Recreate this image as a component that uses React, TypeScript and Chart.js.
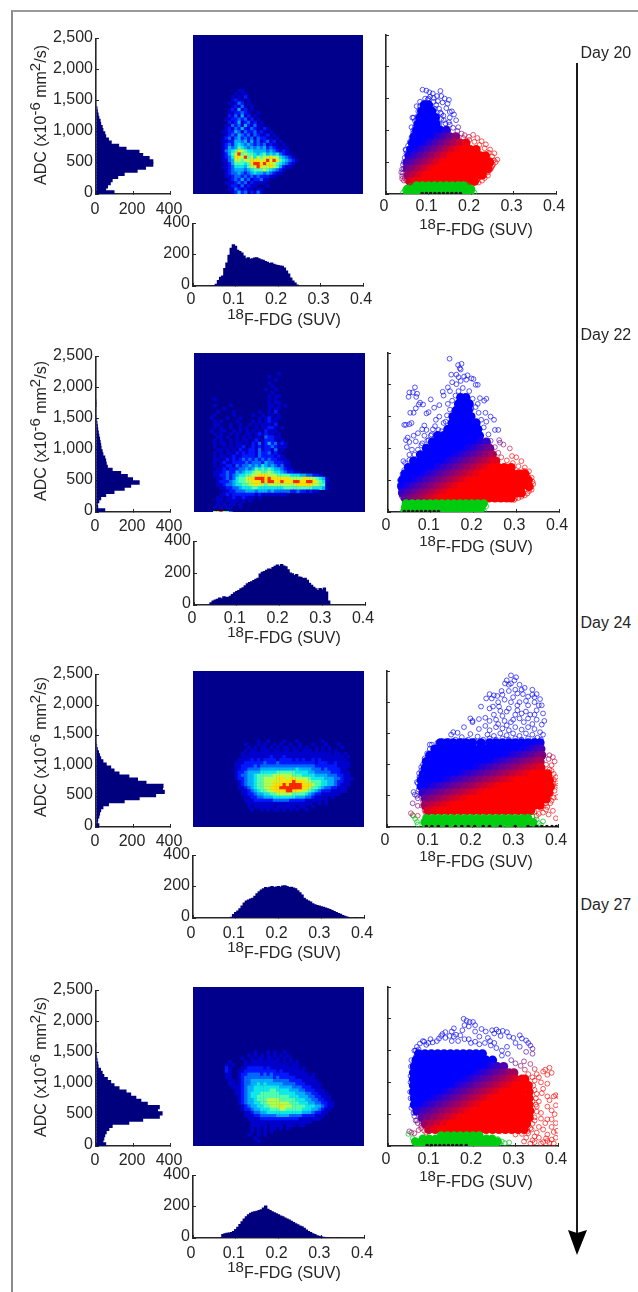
import React, { useEffect, useRef } from "react";
import { Chart, registerables } from "chart.js";

Chart.register(...registerables);

type Row = [number, number[]];

// ---------- tick values ----------
const adcTicks = [0, 500, 1000, 1500, 2000, 2500];
const countTicks = [0, 200, 400];
const fdgTicks = [0, 0.1, 0.2, 0.3, 0.4];

// ---------- ADC histograms: counts for 50-wide bins from 0 ----------
const day20AdcCounts = [100,55,65,80,90,120,155,225,270,310,310,290,255,235,165,125,85,70,55,50,40,36,28,25,18,14,10,8,3];
const day22AdcCounts = [50,12,10,18,28,55,100,155,190,236,200,172,136,90,64,58,55,50,40,36,30,28,25,22,18,15,12,10,8,6,4,3,2,2,1,1];
const day24AdcCounts = [18,10,12,18,22,28,40,70,155,236,325,372,362,365,273,227,180,127,100,82,58,40,28,22,16,10,6,4,3,2,2,1];
const day27AdcCounts = [55,40,45,50,58,72,90,180,255,345,360,335,345,280,245,218,190,165,127,100,82,64,45,36,27,14,12,8,6,4,3,2,1];

// ---------- FDG histograms: counts for 0.005-wide bins, from the start value ----------
const day20FdgStart = 0.045;
const day20FdgCounts = [2,6,14,38,60,68,115,150,200,245,268,258,232,225,215,195,178,185,175,178,182,185,178,172,168,160,155,148,150,142,138,135,132,130,118,100,80,55,35,22,10,3];
const day22FdgStart = 0.035;
const day22FdgCounts = [5,18,28,35,40,48,42,55,52,50,58,70,80,88,95,105,112,125,138,145,150,158,165,172,198,210,215,222,230,228,240,248,255,248,258,250,245,225,205,200,190,195,180,178,170,172,160,140,128,115,105,95,108,100,110,85,28,5];
const day24FdgStart = 0.09;
const day24FdgCounts = [8,25,38,48,62,80,100,112,118,125,130,142,158,172,182,190,198,196,200,205,198,202,205,200,208,210,205,198,200,195,190,178,165,150,130,120,112,105,95,88,84,80,75,72,68,62,58,52,45,38,32,28,20,14,9,6,4,3,2,1];
const day27FdgStart = 0.065;
const day27FdgCounts = [2,25,30,33,35,38,45,58,72,90,108,125,140,152,162,168,172,175,180,185,195,208,188,180,172,165,158,152,145,140,132,125,118,110,102,95,88,80,75,65,55,45,38,30,25,18,14,10,8,6,5,5,4,4,3,2];

// ---------- density maps: one string per ADC row (top row first), one digit per FDG bin ----------
const day20MapStart = 0.0525;
const day20Map = [
"0000000110000000000000000000","0000001011000000000000000000","0000010102000000000000000000","0000012110100000000000000000",
"0000101320100000000000000000","0000012131010000000000000000","0000121412010000000000000000","0000112232100100000000000000",
"0000213141201000000000000000","0001122323120100000000000000","0000212412312010000000000000","0001132314213110000000000000",
"0001213242132102100000000000","0011224313223121010000000000","0001232432313211201000000000","0012313423231322110100000000",
"0011224434242312312010000000","0012324543432323121101000000","0012434654343434232110100000","0013456876554444343212100000",
"0012467967665456454532110000","0012358879675767787754321000","0011347767788878979865432100","0001246665689989887654321000",
"0011235554677987787642110000","0001234443456667654321000000","0001233432345443432110000000","0001123323232322211000000000",
"0000123242312231100000000000","0001112323121111000000000000","0000122131211000100000000000","0000113212110110000000000000",
"0000012423021310000000000000",
];
const day22MapStart = 0.03;
const day22Map = [
"00000000000000000000001","0000000000000000000100","000000000000000000000100","00000000000000000001","0000000000000000000010",
"000000000000000000100100","0000000000000000000010","00000000000000000001011","00100000000000000001010","000000000000000000010110",
"0010000100000000000110101","00000100000000000001011","0001000010000000100102","00100000100000100101101","010000100010000010120110",
"0010100001000010101211","0011000100100101011102","001010010010100101122101","0100110010101010102111","00101001010011012121101",
"00011010010101011032211","001010010101101201222101","0010110101101021312423121","00100101011201212122321110","000110101021122131221301",
"00101011021212213223121","001011012112222132222121","0011012121232323232322111","001012112222323332433222110","00101122132334343543432311",
"000112122233434656565443211","00111232243455677667655432211","0011223234556677888777666655544332210000","0001123235667889998988888877778877654100",
"0001222345667788898998898889988998765100","0001123345566778776777777777888887766100","0000112233455566555555556666666665554100","0000011223334443444343333322322121100000",
"0000112122222221211111111000000000000000","00011011211211101000000","0001101111010100","000101011010","0010101100100","0178976300",
];
const day24MapStart = 0.09;
const day24Map = [
"00000000100100001000100000001000","00001000101001010010010001000100010","0000010101101010110101010010101000100","00001011011101101101101110101010100",
"00010111111111111111111111111110110100","00011111111121112111111111111111111010","00111121212222122221212112121111111100","01112222223222322222222222122211211110",
"01122223233333333333333333222222211110","01122333344444444444544443332322221100","01223444455555666666555544333332221110","01233445666667777776665555444433322110",
"01223445667777888788777765555444332111","00123445667778788889888776665544322110","00123445667778889899998887665544321110","00112345667788899999998876654332211100",
"00011234566778888998887765432221111100","00011223445566777776666543221111110000","00001122334445555555444332111101000000","00001112222223333322222111110100000000",
"00000111111111111111111110010100","00000101111110111111011001000","00000010010101101010100100",
];
const day27MapStart = 0.06;
const day27Map = [
"0000000000010001010010","00000000010101010101010","00000001001011011010101","00010000101111111110101010","0010100011111111111111011",
"0021000112222212111111111010","00210011222222222212111111100","0011001223333232322222111111010","00110012333333333232222211111100",
"00011012334444444333332222111110","000110123344545444443333222111110","0000111234455555555444433322211100","00000112344555556655554443322211100",
"000001123455566666655555444332211100","000000123455666666666655544433221110","000000123445666777766666555443322110","000000123445566777777766655544332211",
"000000012344556677787776666555443211","000000012234455566677666665554432110","000000001123344555555555554443221100","000000001112233333444433332222111000",
"000000000111122222222222211111110000","000000000011111111111111111110000","000000000011111011110111011000","00000000001010101101010",
"000000000010101010","000000000100101","0000000000010","00000000000010","0000001356899985310",
];
const day20MapTopAdc = 1625;
const day22MapTopAdc = 2175;
const day24MapTopAdc = 1375;
const day27MapTopAdc = 1475;
// ADC at which the last row of each map sits (the thin strip along the base), null = regular
const mapFloorAdc = [null, -12, null, -34];

// ---------- scatter: dense rows [ADC, FDG x 1000 values] ----------
const day20Core: Row[] = [
[1400,[90,100]],[1300,[84,96,108]],[1200,[80,92,104,116]],[1100,[76,90,104,118]],[1000,[72,86,100,114,128,142]],
[900,[66,80,94,108,122,136,150,164]],[800,[62,76,90,104,118,132,146,160,174,188]],[700,[58,72,86,100,114,128,142,156,170,184,198,212]],
[600,[54,68,82,96,110,124,138,152,166,180,194,208,222,234]],[500,[50,64,78,92,106,120,134,148,162,176,190,204,218,232,244]],
[400,[50,64,78,92,106,120,134,148,162,176,190,204,218,232,240]],[300,[52,66,80,94,108,122,136,150,164,178,192,206,220,226]],
[200,[56,70,84,98,112,126,140,154,168,182,196,208]],
];
const day20Fringe = [
[86,1640],[95,1625],[102,1600],[110,1580],[128,1620],[120,1540],[104,1530],[92,1500],[98,1480],[130,1540],[138,1500],[148,1480],[145,1420],[133,1440],[122,1460],[112,1510],
[80,1450],[72,1380],[65,1200],[62,1200],[68,1150],[70,1090],[60,1050],[64,1000],[150,1290],[160,1250],[165,1160],[155,1300],[142,1350],[150,1200],[135,1230],[128,1280],[140,1110],[150,1090],
[170,1050],[178,950],[185,925],[195,900],[205,930],[215,880],[225,830],[235,780],[245,700],[255,640],[262,540],[258,500],[250,440],[245,380],[240,340],[232,300],[222,270],[215,220],[212,190],
[60,540],[50,520],[47,440],[42,400],[40,330],[38,280],[44,250],[48,210],[55,640],[52,590],[47,690],[62,690],[68,750],[145,1000],[130,1180],[115,1340],[105,1390],[95,1370],
[46,700],[48,640],[44,570],[42,500],[40,460],[38,390],[36,340],[38,240],[42,210],[52,760],[56,820],[60,890],[64,960],[68,1050],[72,1130],[74,1220],[76,1300],[80,1380],[118,1400],[125,1340],[130,1260],[136,1160],
[148,1130],[158,1040],[168,990],[182,880],[196,850],[208,820],[220,770],[232,720],[242,650],[250,590],[254,530],[252,460],[248,410],[240,290],[232,250],[226,210],[218,180],[120,1220],[126,1100],[112,1450],[100,1500],
];
const day20Green: Row[] = [[135,[72,86,100,114,128,142,156,170,182]],[80,[50,64,78,92,106,120,134,148,162,176,190,200]],[25,[50,64,78,92,106,120,134,148,162,176,190,198]]];
const day20GreenEdge = [[40,20],[44,60],[48,90],[58,125],[204,60],[208,25],[196,120],[188,150]];
const day20Black: Row[] = [[6,[85,95,105,115,125,135,145,155,165,175]]];

const day22Core: Row[] = [
[1800,[170,182]],[1700,[165,178,190]],[1600,[160,174,188]],[1500,[152,166,180,194]],[1400,[150,164,178,192,206]],[1300,[140,154,168,182,196,210]],
[1200,[116,130,144,158,172,186,200,214]],[1100,[104,118,132,146,160,174,188,202,216,230]],[1000,[90,104,118,132,146,160,174,188,202,216,230,238]],
[900,[76,90,104,118,132,146,160,174,188,202,216,230,244]],[800,[60,74,88,102,116,130,144,158,172,186,200,214,228,242,252]],
[700,[48,62,76,90,104,118,132,146,160,174,188,202,216,230,244,258,272,288]],
[600,[40,54,68,82,96,110,124,138,152,166,180,194,208,222,236,250,264,278,292,306,320]],
[500,[34,48,62,76,90,104,118,132,146,160,174,188,202,216,230,244,258,272,286,300,314,328]],
[400,[32,46,60,74,88,102,116,130,144,158,172,186,200,214,228,242,256,270,284,298,312,330]],
[300,[34,48,62,76,90,104,118,132,146,160,174,188,202,216,230,244,258,272,286,300,312]],
[220,[40,54,68,82,96,110,124,138,152,166,180,194,208,222,236,250,264,278,288]],
];
const day22Fringe = [
[144,2410],[164,2310],[170,2240],[168,2260],[172,2330],[148,2160],[160,2160],[165,2120],[178,2130],[186,2150],[195,2100],[200,2090],[205,2000],[210,2000],[150,2040],[140,1960],[160,2010],
[170,2060],[183,2080],[130,1830],[128,1890],[145,1900],[215,1790],[225,1750],[230,1780],[210,1700],[228,1560],[240,1500],[248,1450],[230,1420],[250,1290],[258,1290],[260,1130],[262,1090],
[270,1060],[285,1000],[290,880],[300,860],[312,800],[320,700],[330,640],[338,480],[334,400],[330,330],[320,260],[305,220],[295,190],[262,210],[280,205],
[38,1370],[42,1370],[50,1380],[55,1400],[52,1560],[60,1560],[50,1880],[48,1810],[63,1960],[68,1860],[58,1880],[66,1810],[72,1690],[65,1630],[75,1720],[82,1690],[100,1770],[108,1640],[90,1550],[95,1570],
[85,1360],[90,1290],[80,1300],[70,1240],[65,1110],[60,1200],[46,1170],[42,1130],[50,1100],[56,980],[44,1020],[50,900],[40,770],[36,800],[32,540],[30,370],[36,300],[42,260],[120,1500],[110,1350],[135,1420],[120,1680],[125,1270],[105,1300],[100,1200],[95,1130],[78,1050],
[150,1750],[158,1830],[165,1900],[175,1950],[190,1900],[198,1780],[205,1650],[212,1560],[218,1450],[224,1330],[235,1220],[240,1120],[250,1020],[258,930],[265,860],[278,810],[292,770],[305,720],[318,650],[326,590],[336,540],[340,440],[336,350],[326,290],[312,240],[298,210],
[140,1700],[145,1610],[138,1520],[130,1400],[118,1290],[102,1220],[92,1120],[80,1080],[70,980],[62,900],[50,820],[44,720],[38,660],[34,600],[28,500],[28,430],[30,320],[32,250],[36,210],[180,1780],[155,1600],[168,1750],[195,1620],[112,1450],[85,1200],
];
const day22Green: Row[] = [[135,[42,56,70,84,98,112,126,140,154,168,182,196,210,224]],[75,[40,54,68,82,96,110,124,138,152,166,180,194,208,218]],[25,[40,54,68,84,100,116,132,150,168,186,204,216]]];
const day22GreenEdge = [[34,10],[205,15],[215,60],[225,15],[222,50],[230,90],[190,20],[180,50]];
const day22Black: Row[] = [[6,[38,48,58,68,78,88,98,108,118]]];

const day24Core: Row[] = [
[1350,[125,140,155,170,185,200,220,240,255,270,285,300,315,330,345,358]],
[1250,[112,125,140,155,170,185,200,215,230,245,260,275,290,305,320,335,350,360]],
[1150,[100,115,130,145,160,175,190,205,220,235,250,265,280,295,310,325,340,355,362]],
[1050,[92,107,122,137,152,167,182,197,212,227,242,257,272,287,302,317,332,347,358]],
[950,[90,105,120,135,150,165,180,195,210,225,240,255,270,285,300,315,330,345,360]],
[850,[85,100,115,130,145,160,175,190,205,220,235,250,265,280,295,310,325,340,355,368,376]],
[750,[80,95,110,125,140,155,170,185,200,215,230,245,260,275,290,305,320,335,350,365,380]],
[650,[80,95,110,125,140,155,170,185,200,215,230,245,260,275,290,305,320,335,350,365,382]],
[550,[84,99,114,129,144,159,174,189,204,219,234,249,264,279,294,309,324,339,354,368,378]],
[450,[90,105,120,135,150,165,180,195,210,225,240,255,270,285,300,315,330,345,360,372]],
[350,[90,105,120,135,150,165,180,195,210,225,240,255,270,285,300,315,330,345,358]],
[260,[96,111,126,141,156,171,186,201,216,231,246,261,276,291,306,321,336]],
];
const day24Fringe = [
[290,2430],[302,2400],[298,2350],[280,2350],[276,2300],[290,2300],[310,2280],[322,2230],[340,2200],[350,2130],[358,2050],[362,1950],[365,1820],[368,1700],[362,1640],[250,2110],[240,2130],[245,2060],
[232,2060],[258,2100],[268,2180],[285,2180],[300,2200],[318,2130],[330,2090],[345,2000],[295,2080],[275,2040],[260,2000],[310,2000],[330,1950],[220,1930],[240,1900],[262,1930],[285,1900],[305,1870],[325,1850],[345,1800],
[200,1700],[195,1740],[200,1680],[180,1600],[150,1480],[155,1520],[165,1510],[215,1730],[230,1750],[250,1800],[270,1780],[295,1720],[320,1680],[340,1650],[230,1620],[260,1650],[280,1630],[215,1570],[195,1490],[175,1440],
[100,1320],[105,1320],[93,1060],[85,950],[80,960],[75,860],[78,800],[70,720],[62,560],[65,520],[70,500],[72,460],[60,380],[72,340],[88,310],[56,220],[60,190],[72,180],[90,230],
[380,1150],[388,1120],[392,1050],[385,990],[378,1090],[395,800],[390,760],[398,700],[380,920],[392,580],[398,480],[390,470],[385,420],[382,380],[375,320],[388,260],[378,200],[395,140],[372,280],[365,230],[355,210],[350,180],[400,660],[372,1000],
[240,1550],[255,1600],[270,1580],[285,1550],[300,1600],[315,1560],[330,1600],[345,1570],[358,1520],[365,1480],[235,1480],[250,1460],[265,1500],[280,1470],[295,1500],[310,1460],[325,1500],[340,1480],[352,1430],[360,1400],
[212,1450],[225,1400],[240,1420],[255,1400],[270,1420],[285,1400],[300,1420],[315,1400],[330,1420],[345,1390],[358,1350],[190,1400],[205,1380],[220,1350],[175,1380],[160,1400],[145,1380],[130,1380],[118,1350],
[240,1700],[255,1720],[275,1700],[290,1680],[310,1740],[330,1740],[350,1720],[350,1870],[335,1800],[300,1800],[315,1820],[280,1850],[265,1860],[248,1930],[345,2080],[325,2020],[305,1950],[290,2000],[270,2120],[305,2140],[340,2120],[355,1950],[285,2280],[315,2200],
[100,1250],[94,1180],[88,1100],[84,1000],[80,900],[76,800],[72,700],[74,600],[78,500],[84,420],[82,340],[88,270],[95,220],[385,900],[390,850],[388,700],[386,620],[384,540],[378,450],[372,380],[360,300],[345,240],
];
const day24Green: Row[] = [[140,[92,107,122,137,152,167,182,197,212,227,242,257,272,287,302,317,330]],[75,[88,103,118,133,148,163,178,193,208,223,238,253,268,283,298,313,328,342]],[25,[92,107,125,145,165,185,205,225,245,265,285,305,325]]];
const day24GreenEdge = [[62,180],[66,130],[70,80],[72,40],[345,40],[355,60],[350,120],[340,170],[365,90],[360,30]];
const day24Black: Row[] = [[6,[92,105,120,140,160,175,190,205,225,240,265,300,330,350,362,374,386,396]]];

const day27Core: Row[] = [
[1450,[72,87,102,117,132,147,162,177,192,207,222]],
[1350,[66,81,96,111,126,141,156,171,186,201,216,231,246]],
[1250,[62,77,92,107,122,137,152,167,182,197,212,227,242,257,272]],
[1150,[60,75,90,105,120,135,150,165,180,195,210,225,240,255,270,285,296]],
[1050,[60,75,90,105,120,135,150,165,180,195,210,225,240,255,270,285,300,315,322]],
[950,[60,75,90,105,120,135,150,165,180,195,210,225,240,255,270,285,300,315,330]],
[850,[60,75,90,105,120,135,150,165,180,195,210,225,240,255,270,285,300,315,332]],
[750,[62,77,92,107,122,137,152,167,182,197,212,227,242,257,272,287,302,317,332]],
[650,[62,77,92,107,122,137,152,167,182,197,212,227,242,257,272,287,302,317,332]],
[550,[68,83,98,113,128,143,158,173,188,203,218,233,248,263,278,293,308,323,334]],
[450,[80,95,110,125,140,155,170,185,200,215,230,245,260,275,290,305,320,332]],
[350,[88,103,118,133,148,163,178,193,208,223,238,253,268,283,298,313,326]],
[260,[96,111,126,141,156,171,186,201,216,231,246,261,276,291,306,320]],
];
const day27Fringe = [
[178,2000],[185,1970],[192,1950],[200,1950],[205,1900],[190,1880],[180,1900],[175,1820],[155,1850],[150,1800],[135,1790],[125,1730],[128,1760],[145,1730],[160,1750],[170,1740],[205,1800],[220,1840],[230,1800],
[245,1820],[255,1830],[260,1800],[250,1770],[270,1810],[280,1790],[265,1730],[285,1720],[295,1700],[315,1690],[310,1740],[325,1660],[330,1620],[335,1580],[340,1530],[215,1720],[235,1700],[300,1620],
[82,1650],[85,1640],[95,1620],[105,1630],[72,1520],[65,1500],[65,1400],[115,1650],[150,1650],[190,1680],[250,1620],[280,1560],[310,1560],[325,1480],[340,1450],
[60,1100],[58,950],[60,800],[62,660],[65,520],[62,470],[65,400],[80,350],[70,360],[50,230],[55,210],[62,200],[72,250],[90,210],[78,320],
[320,1330],[335,1290],[345,1210],[350,1130],[370,1200],[380,1230],[385,1150],[375,1120],[365,1170],[345,1030],[360,1000],[375,980],[395,800],[402,780],[390,780],[380,720],[362,830],[350,820],[340,700],
[395,640],[385,560],[392,500],[385,420],[395,360],[398,240],[390,220],[375,180],[372,120],[365,60],[360,40],[350,210],[345,150],[340,90],[335,40],[355,300],[370,360],[345,400],[360,520],[375,620],[350,620],[355,700],[338,260],[330,200],[325,130],[320,70],[385,100],[380,50],[395,130],
[62,1500],[68,1560],[75,1610],[90,1590],[100,1680],[120,1690],[135,1700],[155,1720],[165,1650],[180,1680],[195,1620],[205,1640],[215,1600],[228,1620],[242,1580],[240,1650],[255,1540],[268,1500],[268,1420],[282,1450],[290,1350],[300,1300],[312,1260],[322,1200],[330,1130],[340,1080],[342,950],[345,880],[348,750],[348,650],[350,540],[345,450],[340,350],[335,280],[328,230],[315,190],[300,180],
[55,1350],[54,1250],[53,1100],[53,1000],[52,850],[53,750],[55,600],[60,520],[68,400],[78,280],[85,240],[355,1080],[365,900],[375,780],[360,430],[375,420],[385,300],[365,260],[355,130],[375,80],[390,40],[345,60],
];
const day27Green: Row[] = [[165,[125,140,155,170,185,200,215]],[115,[82,97,112,127,142,157,172,187,202,217,232,245]],[70,[64,79,94,109,124,139,154,169,184,199,214,229,244,258]],[25,[70,85,100,115,130,145,160,175,190,205,220,235,250]]];
const day27GreenEdge = [[48,190],[58,120],[62,80],[68,40],[262,40],[268,70],[258,110],[275,45],[285,55]];
const day27Black: Row[] = [[6,[92,102,112,122,132,142,152,162,172,184]]];

// colour model for the mixed scatter: [pivot FDG, pivot ADC, slope, blend width]
const day20Mix = [0.11, 642, 0.000204, 0.11];
const day22Mix = [0.152, 610, 0.000245, 0.14];
const day24Mix = [0.194, 694, 0.000374, 0.18];
const day27Mix = [0.193, 823, 0.000252, 0.15];

const dayLabels = ["Day 20", "Day 22", "Day 24", "Day 27"];

// ---------- layout ----------
const ML = 60, MT = 12, MR = 24, MB = 30;
const ink = "#262626";
const navy = "#00007f";
const mapBack = "#00008c";
const jet = [mapBack, "#0000cc", "#0018ff", "#0068ff", "#00b0ff", "#10e8e8", "#50ffb0", "#b0ff50", "#ffe000", "#ff2800"];
const rows = [
  { top: 35, bottom: 194, hist2Top: 220, hist2Bottom: 286, mapX: 193, mapR: 363, scatX: 386, scatR: 556, day: 53, ty: 115, t2: 320, t3: 230, pad: 5, padF: 4 },
  { top: 353, bottom: 512, hist2Top: 538, hist2Bottom: 605, mapX: 194, mapR: 365, scatX: 388, scatR: 559, day: 335, ty: 431, t2: 638, t3: 547, pad: 4, padF: 4 },
  { top: 671, bottom: 827, hist2Top: 852, hist2Bottom: 918, mapX: 193, mapR: 364, scatX: 387, scatR: 558, day: 623, ty: 747, t2: 953, t3: 862, pad: 4, padF: 6 },
  { top: 987, bottom: 1146, hist2Top: 1172, hist2Bottom: 1238, mapX: 193, mapR: 364, scatX: 388, scatR: 558, day: 905, ty: 1067, t2: 1273, t3: 1182, pad: 4, padF: 6 },
];

const fillBack = {
  id: "fillBack",
  beforeDatasetsDraw(chart: any) {
    const a = chart.chartArea;
    chart.ctx.fillStyle = mapBack;
    chart.ctx.fillRect(a.left, a.top, a.right - a.left, a.bottom - a.top);
  },
};

function fmtFdg(v: number) { return v === 0 ? "0" : String(v); }
function fmtCount(v: number) { return Number(v).toLocaleString("en-US"); }

function axis(min: number, max: number, values: number[], horizontal: boolean, labels: boolean, fmt: (v: number) => string, pad: number, labelOffset: number) {
  return {
    type: "linear", min, max, offset: false,
    afterBuildTicks: (s: any) => { s.ticks = values.map((value) => ({ value })); },
    afterFit: (s: any) => { if (horizontal) s.height = MB; else s.width = ML; },
    grid: { drawOnChartArea: false, drawTicks: true, tickLength: -3, color: ink, offset: false },
    border: { display: true, color: ink, width: 1.6 },
    ticks: {
      display: labels, padding: pad + 3, color: ink, autoSkip: false, maxRotation: 0, minRotation: 0, labelOffset,
      font: { family: "Liberation Sans", size: 16 }, callback: (v: number) => fmt(v),
    },
  };
}

function base(padding: any, scales: any) {
  return { responsive: false, animation: false as const, layout: { padding }, plugins: { legend: { display: false }, tooltip: { enabled: false } }, scales };
}

function adcHistConfig(counts: number[], r: any) {
  const data = counts.map((x, i) => ({ x, y: 25 + i * 50 }));
  return {
    type: "bar",
    data: { datasets: [{ data, backgroundColor: navy, borderWidth: 0, barPercentage: 1.4, categoryPercentage: 1 }] },
    options: { indexAxis: "y", ...base({ top: MT, right: MR }, {
      x: axis(0, 400, countTicks, true, true, fmtCount, r.pad + 1, -1),
      y: axis(0, 2500, adcTicks, false, true, fmtCount, 3, -1.5),
    }) },
  };
}

function fdgHistConfig(start: number, counts: number[], r: any) {
  const data = counts.map((y, i) => ({ x: start + i * 0.005, y }));
  return {
    type: "bar",
    data: { datasets: [{ data, backgroundColor: navy, borderWidth: 0, barPercentage: 1.6, categoryPercentage: 1 }] },
    options: base({ top: MT, right: MR }, {
      x: axis(0, 0.4, fdgTicks, true, true, fmtFdg, r.padF, -2),
      y: axis(0, 400, countTicks, false, true, fmtCount, 3, -1),
    }),
  };
}

function mapConfig(start: number, topAdc: number, floor: number | null, grid: string[], height: number, width: number) {
  const points: any[] = [];
  const colours: string[] = [];
  grid.forEach((line, i) => {
    const y = floor !== null && i === grid.length - 1 ? floor : topAdc - i * 50;
    for (let c = 0; c < line.length; c++) {
      const d = Number(line[c]);
      if (d > 0) {
        points.push({ x: start + (c + 0.5) * 0.0075, y });
        colours.push(jet[d]);
      }
    }
  });
  const side = Math.max((width / 0.4) * 0.0075, (height / 2500) * 50) + 0.4;
  return {
    type: "scatter",
    data: { datasets: [{ data: points, pointStyle: "rect", pointRadius: (side / 2) * Math.SQRT2, pointBorderWidth: 0, pointBackgroundColor: colours, showLine: false, clip: 0 }] },
    options: base({ left: ML, top: MT, right: MR, bottom: MB }, {
      x: { type: "linear", min: 0, max: 0.4, display: false },
      y: { type: "linear", min: 0, max: 2500, display: false },
    }),
    plugins: [fillBack],
  };
}

function mixColour(x: number, y: number, m: number[], alpha: number) {
  const u = x - m[0] - m[2] * (y - m[1]);
  const t = Math.max(0, Math.min(1, 0.5 + u / m[3]));
  return `rgba(${Math.round(255 * t)},0,${Math.round(255 * (1 - t))},${alpha})`;
}

function expand(list: Row[]) {
  const out: { x: number; y: number }[] = [];
  list.forEach(([y, xs]) => xs.forEach((x) => out.push({ x: x / 1000, y })));
  return out;
}

function scatterConfig(core: Row[], fringe: number[][], green: Row[], greenEdge: number[][], black: Row[], mix: number[], r: any) {
  const corePts = expand(core);
  const ringPts = fringe.map(([x, y]) => ({ x: x / 1000, y }));
  const edgePts = greenEdge.map(([x, y]) => ({ x: x / 1000, y }));
  return {
    type: "scatter",
    data: { datasets: [
      { order: 3, data: corePts, pointRadius: 4.6, pointBorderWidth: 0, pointBackgroundColor: corePts.map((p) => mixColour(p.x, p.y, mix, 1)) },
      { order: 4, data: ringPts, pointRadius: 2.4, pointBorderWidth: 1, pointBackgroundColor: "rgba(0,0,0,0)", pointBorderColor: ringPts.map((p) => mixColour(p.x, p.y, mix, 0.65)) },
      { order: 2, data: edgePts, pointRadius: 2.4, pointBorderWidth: 1, pointBackgroundColor: "rgba(0,0,0,0)", pointBorderColor: "rgba(0,200,30,0.7)" },
      { order: 1, data: expand(green), pointRadius: 4.2, pointBorderWidth: 0, pointBackgroundColor: "#00cc10" },
      { order: 0, data: expand(black), pointRadius: 1.8, pointBorderWidth: 0, pointBackgroundColor: "#101010" },
    ] },
    options: { ...base({ top: MT, right: MR }, {
      x: axis(0, 0.4, fdgTicks, true, true, fmtFdg, r === rows[0] ? 3 : 4, -2),
      y: axis(0, 2500, adcTicks, false, false, fmtCount, 3, 0),
    }), elements: { point: { pointStyle: "circle" } } },
  };
}

const adcCounts = [day20AdcCounts, day22AdcCounts, day24AdcCounts, day27AdcCounts];
const fdgCounts = [day20FdgCounts, day22FdgCounts, day24FdgCounts, day27FdgCounts];
const fdgStarts = [day20FdgStart, day22FdgStart, day24FdgStart, day27FdgStart];
const maps = [day20Map, day22Map, day24Map, day27Map];
const mapStarts = [day20MapStart, day22MapStart, day24MapStart, day27MapStart];
const mapTops = [day20MapTopAdc, day22MapTopAdc, day24MapTopAdc, day27MapTopAdc];
const cores = [day20Core, day22Core, day24Core, day27Core];
const fringes = [day20Fringe, day22Fringe, day24Fringe, day27Fringe];
const greens = [day20Green, day22Green, day24Green, day27Green];
const greenEdges = [day20GreenEdge, day22GreenEdge, day24GreenEdge, day27GreenEdge];
const blacks = [day20Black, day22Black, day24Black, day27Black];
const mixes = [day20Mix, day22Mix, day24Mix, day27Mix];

type PanelDef = { left: number; top: number; w: number; h: number; config: any };

function buildPanels(): PanelDef[] {
  const out: PanelDef[] = [];
  rows.forEach((r, i) => {
    const h = r.bottom - r.top;
    const push = (plotL: number, plotR: number, top: number, bottom: number, config: any) => {
      out.push({ left: plotL - ML, top: top - MT, w: plotR - plotL + ML + MR, h: bottom - top + MT + MB, config });
    };
    push(96, 170, r.top, r.bottom, adcHistConfig(adcCounts[i], r));
    push(r.mapX, r.mapR, r.top, r.bottom, mapConfig(mapStarts[i], mapTops[i], mapFloorAdc[i], maps[i], h, r.mapR - r.mapX));
    push(r.mapX, r.mapR, r.hist2Top, r.hist2Bottom, fdgHistConfig(fdgStarts[i], fdgCounts[i], r));
    push(r.scatX, r.scatR, r.top, r.bottom, scatterConfig(cores[i], fringes[i], greens[i], greenEdges[i], blacks[i], mixes[i], r));
  });
  return out;
}

const supStyle: React.CSSProperties = { position: "relative", top: "-0.42em", fontSize: "15px", verticalAlign: "baseline" };
const textBase: React.CSSProperties = { position: "absolute", fontFamily: "'Liberation Sans', sans-serif", fontSize: 16, color: ink, whiteSpace: "nowrap", lineHeight: "20px" };

function FdgTitle({ cx, cy }: { cx: number; cy: number }) {
  return (
    <div style={{ ...textBase, left: cx, top: cy - 10, transform: "translateX(-50%)" }}>
      <span style={supStyle}>18</span>F-FDG (SUV)
    </div>
  );
}

function AdcTitle({ cy }: { cy: number }) {
  return (
    <div style={{ ...textBase, left: 41, top: cy, transform: "translate(-50%,-50%) rotate(-90deg)" }}>
      ADC (x10<span style={supStyle}>-6</span> mm<span style={supStyle}>2</span>/s)
    </div>
  );
}

export default function App() {
  const panels = useRef<PanelDef[]>(buildPanels());
  const refs = useRef<(HTMLCanvasElement | null)[]>([]);
  useEffect(() => {
    const charts = panels.current.map((p, i) => new Chart(refs.current[i] as HTMLCanvasElement, p.config));
    return () => charts.forEach((c) => c.destroy());
  }, []);
  return (
    <div style={{ position: "absolute", left: 0, top: 0, width: 638, height: 1292, background: "#fff", overflow: "hidden", filter: "blur(0.4px)" }}>
      <div style={{ position: "absolute", left: 11, top: 10, width: 640, height: 1300, borderLeft: "2px solid #8c8c8c", borderTop: "2px solid #9a9a9a" }} />
      {panels.current.map((p, i) => (
        <canvas key={i} ref={(el) => { refs.current[i] = el; }} width={p.w} height={p.h}
          style={{ position: "absolute", left: p.left, top: p.top, width: p.w, height: p.h }} />
      ))}
      {rows.map((r, i) => (
        <React.Fragment key={i}>
          <AdcTitle cy={r.ty} />
          <FdgTitle cx={284} cy={r.t2} />
          <FdgTitle cx={476} cy={r.t3} />
          <div style={{ ...textBase, left: 580.5, top: r.day - 10 }}>{dayLabels[i]}</div>
        </React.Fragment>
      ))}
      <svg width={638} height={1292} style={{ position: "absolute", left: 0, top: 0 }}>
        <line x1={577} y1={63} x2={577} y2={1235} stroke="#1a1a1a" strokeWidth={2} />
        <polygon points="568,1230 577,1233 587,1230 577,1255" fill="#000" />
      </svg>
    </div>
  );
}
